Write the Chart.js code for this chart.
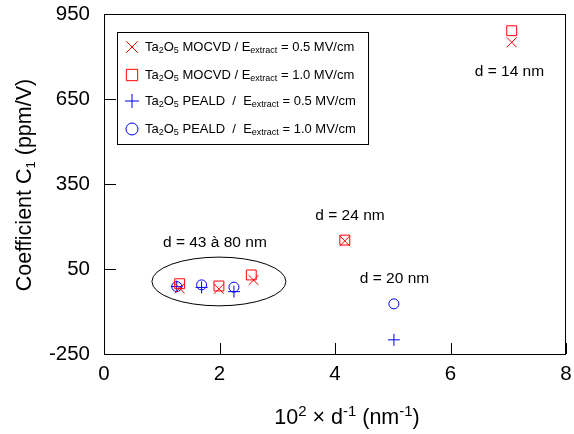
<!DOCTYPE html>
<html>
<head>
<meta charset="UTF-8">
<title>Coefficient C1 vs 1/d</title>
<script src="https://cdn.jsdelivr.net/npm/chart.js"></script>
<style>
  body { margin: 0; background: #fff; }
  canvas { display: block; }
</style>
</head>
<body>
<canvas id="chart" width="574" height="434"></canvas>
<script>
// values
const mocvd05X = [1.31, 1.99, 2.59, 4.17, 7.06];
const mocvd05Y = [-18, -20, 11, 149, 850];
const mocvd10X = [1.31, 1.99, 2.55, 4.17, 7.06];
const mocvd10Y = [-2, -10, 29, 152, 891];
const peald05X = [1.26, 1.69, 2.25, 5.02];
const peald05Y = [-12, -15, -30, -200];
const peald10X = [1.26, 1.69, 2.25, 5.02];
const peald10Y = [-12, -6, -14, -73];

const fieldLabels = ['0.5', '1.0', '0.5', '1.0'];
const processLabels = ['MOCVD / E', 'MOCVD / E', 'PEALD  /  E', 'PEALD  /  E'];

const xTicks = [0, 2, 4, 6, 8];
const yTicks = [-250, 50, 350, 650, 950];

// thickness notes
const noteText = ['d = 14 nm', 'd = 24 nm', 'd = 20 nm', 'd = 43 à 80 nm'];
const noteX = [7.02, 4.26, 5.03, 1.92];
const noteY = [745, 237, 15, 142];

// ellipse round the thick films
const ellipseCx = 1.99, ellipseCy = 6, ellipseRx = 1.16, ellipseRy = 86;

const RED = '#ff0000';
const BLUE = '#0000ff';
const FONT = '"Liberation Sans", Arial, sans-serif';

const pts = (xs, ys) => xs.map((x, i) => ({ x, y: ys[i] }));

const datasets = [
  { data: pts(mocvd05X, mocvd05Y), pointStyle: 'crossRot', pointRadius: 7, borderColor: RED },
  { data: pts(mocvd10X, mocvd10Y), pointStyle: 'rect', pointRadius: 7, borderColor: RED },
  { data: pts(peald05X, peald05Y), pointStyle: 'cross', pointRadius: 6, borderColor: BLUE },
  { data: pts(peald10X, peald10Y), pointStyle: 'circle', pointRadius: 5, borderColor: BLUE }
].map(d => Object.assign(d, {
  backgroundColor: 'rgba(0,0,0,0)',
  pointBorderWidth: 1,
  pointHoverRadius: d.pointRadius,
  showLine: false
}));

// draw text with sub/superscripts: parts = [[text, 'sub'|'sup'|''], ...]
function richText(ctx, parts, x, y, size, align, ratio = 0.68) {
  const small = Math.round(size * ratio);
  let total = 0;
  parts.forEach(([t, k]) => {
    ctx.font = (k ? small : size) + 'px ' + FONT;
    total += ctx.measureText(t).width;
  });
  let cx = align === 'center' ? x - total / 2 : x;
  ctx.textAlign = 'left';
  ctx.textBaseline = 'middle';
  parts.forEach(([t, k]) => {
    ctx.font = (k ? small : size) + 'px ' + FONT;
    let dy = 0;
    if (k === 'sub') dy = size * 0.3;
    if (k === 'sup') dy = -size * 0.3;
    ctx.fillText(t, cx, y + dy);
    cx += ctx.measureText(t).width;
  });
}

const decorations = {
  id: 'decorations',
  afterDraw(chart) {
    const { ctx, chartArea: a, scales: { x, y } } = chart;
    ctx.save();

    // frame
    ctx.strokeStyle = '#000';
    ctx.lineWidth = 1;
    ctx.strokeRect(a.left + 0.5, a.top + 0.5, a.right - a.left - 1, a.bottom - a.top);

    // inward ticks
    ctx.beginPath();
    xTicks.forEach(v => {
      const px = Math.round(x.getPixelForValue(v)) + 0.5;
      ctx.moveTo(px, a.bottom);
      ctx.lineTo(px, a.bottom - 11);
    });
    yTicks.forEach(v => {
      const py = Math.round(y.getPixelForValue(v)) + 0.5;
      ctx.moveTo(a.left, py);
      ctx.lineTo(a.left + 12, py);
    });
    ctx.stroke();

    // ellipse
    ctx.beginPath();
    ctx.ellipse(
      x.getPixelForValue(ellipseCx), y.getPixelForValue(ellipseCy),
      x.getPixelForValue(ellipseCx + ellipseRx) - x.getPixelForValue(ellipseCx),
      y.getPixelForValue(ellipseCy) - y.getPixelForValue(ellipseCy + ellipseRy),
      0, 0, Math.PI * 2);
    ctx.stroke();

    // notes
    ctx.fillStyle = '#000';
    ctx.font = '15.5px ' + FONT;
    ctx.textAlign = 'center';
    ctx.textBaseline = 'middle';
    noteText.forEach((t, i) => ctx.fillText(t, x.getPixelForValue(noteX[i]), y.getPixelForValue(noteY[i])));

    // legend box
    ctx.fillStyle = '#fff';
    ctx.fillRect(117, 32, 251, 112);
    ctx.strokeStyle = '#000';
    ctx.strokeRect(117.5, 32.5, 251, 112);
    const rowY = [47, 75, 101, 129];
    chart.data.datasets.forEach((ds, i) => {
      ctx.strokeStyle = ds.borderColor;
      ctx.fillStyle = 'rgba(0,0,0,0)';
      ctx.lineWidth = 1;
      const r = ds.pointStyle === 'circle' ? 6 : ds.pointRadius + 1;
      Chart.helpers.drawPoint(ctx, { pointStyle: ds.pointStyle, rotation: 0, radius: r, borderWidth: 1 }, 132, rowY[i]);
      ctx.fillStyle = '#000';
      richText(ctx, [['Ta', ''], ['2', 'sub'], ['O', ''], ['5', 'sub'], [' ' + processLabels[i], ''],
        ['extract', 'sub'], [' = ' + fieldLabels[i] + ' MV/cm', '']], 145, rowY[i], 13, 'left');
    });

    // axis titles
    ctx.fillStyle = '#000';
    richText(ctx, [['10', ''], ['2', 'sup'], [' × d', ''], ['-1', 'sup'], [' (nm', ''], ['-1', 'sup'], [')', '']],
      347, 418, 21.5, 'center', 0.72);
    ctx.translate(25, 185);
    ctx.rotate(-Math.PI / 2);
    richText(ctx, [['Coefficient C', ''], ['1', 'sub'], [' (ppm/V)', '']], 0, 0, 21.5, 'center', 0.62);

    ctx.restore();
  }
};

new Chart(document.getElementById('chart'), {
  type: 'scatter',
  data: { datasets },
  options: {
    responsive: false,
    animation: false,
    layout: { padding: { top: 14, right: 4, left: 0, bottom: 0 } },
    plugins: { legend: { display: false }, tooltip: { enabled: false } },
    scales: {
      x: {
        type: 'linear',
        min: 0, max: 8,
        afterBuildTicks: s => { s.ticks = xTicks.map(v => ({ value: v })); },
        afterFit: s => { s.height = 80; s.paddingLeft = 0; s.paddingRight = 0; },
        grid: { display: false, drawTicks: false },
        border: { display: false },
        ticks: { color: '#000', font: { size: 20.5, family: FONT }, padding: 8, maxRotation: 0, autoSkip: false }
      },
      y: {
        type: 'linear',
        min: -250, max: 950,
        afterBuildTicks: s => { s.ticks = yTicks.map(v => ({ value: v })); },
        afterFit: s => { s.width = 104; s.paddingTop = 0; s.paddingBottom = 0; },
        grid: { display: false, drawTicks: false },
        border: { display: false },
        ticks: { color: '#000', font: { size: 20.5, family: FONT }, padding: 14, autoSkip: false }
      }
    }
  },
  plugins: [decorations]
});
</script>
</body>
</html>
